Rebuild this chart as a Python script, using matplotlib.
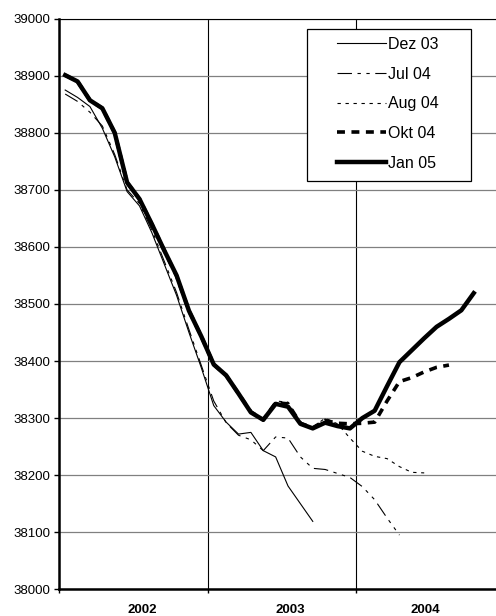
import numpy as np
import matplotlib
matplotlib.use('Agg')
import matplotlib.pyplot as plt
from matplotlib.patches import Rectangle

plt.rcParams['font.family'] = ['Liberation Sans', 'DejaVu Sans']

# values per month, starting Jan 2002 (one list per data vintage)
year_labels = ['2002', '2003', '2004']
series_names = ['Dez 03', 'Jul 04', 'Aug 04', 'Okt 04', 'Jan 05']

dez03 = [38875, 38862, 38846, 38808, 38758, 38697, 38672, 38625, 38570, 38515,
         38450, 38388, 38322, 38293, 38272, 38275, 38243, 38232, 38181, 38150,
         38119]
jul04 = [38868, 38855, 38836, 38812, 38762, 38700, 38676, 38630, 38575, 38520,
         38455, 38392, 38330, 38292, 38270, 38262, 38243, 38267, 38265, 38232,
         38212, 38210, 38203, 38196, 38180, 38157, 38125, 38095]
aug04 = [38900, 38889, 38856, 38842, 38798, 38712, 38683, 38639, 38593, 38548,
         38487, 38442, 38393, 38374, 38342, 38310, 38298, 38330, 38328, 38292,
         38284, 38300, 38290, 38265, 38242, 38233, 38229, 38215, 38205, 38204]
okt04 = [38901, 38890, 38857, 38843, 38800, 38713, 38684, 38640, 38594, 38549,
         38488, 38443, 38394, 38375, 38343, 38311, 38297, 38327, 38325, 38291,
         38283, 38296, 38291, 38290, 38291, 38293, 38330, 38364, 38371, 38381,
         38389, 38393]
jan05 = [38901, 38890, 38857, 38843, 38800, 38713, 38684, 38640, 38594, 38550,
         38488, 38443, 38394, 38375, 38343, 38310, 38297, 38325, 38320, 38290,
         38282, 38292, 38286, 38282, 38300, 38313, 38356, 38398, 38419, 38440,
         38460, 38474, 38489, 38519]

fig = plt.figure(figsize=(4.96, 6.16), dpi=100)
ax = fig.add_axes([59 / 496, 1 - 589.3 / 616, 1 - 59 / 496, (589.3 - 18.7) / 616])


def xs(vals):
    # points sit in the middle of each month slot
    return np.arange(len(vals)) + 0.5


ax.plot(xs(dez03), dez03, color='black', lw=0.8, label=series_names[0])
ax.plot(xs(jul04), jul04, color='black', lw=0.8, dashes=(13, 5, 3, 5, 3, 5),
        label=series_names[1])
ax.plot(xs(aug04), aug04, color='black', lw=0.8, dashes=(3, 4.2),
        label=series_names[2])
ax.plot(xs(okt04), okt04, color='black', lw=2.6, dashes=(2.2, 1.8),
        label=series_names[3])
ax.plot(xs(jan05), jan05, color='black', lw=3.2, label=series_names[4])

ax.set_xlim(0, 35.3)
ax.set_ylim(38000, 39000)
ax.set_yticks(np.arange(38000, 39001, 100))
ax.yaxis.grid(True, color='#808080', lw=0.9)
ax.set_axisbelow(True)

# year boundaries as black vertical lines, year names in between
ax.set_xticks([0, 12, 24])
ax.set_xticklabels([])
ax.xaxis.grid(True, color='black', lw=0.8)
ax.set_xticks([6.7, 18.65, 29.55], minor=True)
ax.set_xticklabels(year_labels, minor=True, fontsize=9.5, fontweight='bold')
ax.tick_params(axis='x', which='minor', length=0, pad=10.5)
ax.tick_params(axis='x', which='major', length=3, width=1)
ax.tick_params(axis='y', length=3.5, width=1, labelsize=9.5, pad=3)

ax.spines['left'].set_linewidth(1.8)
ax.spines['bottom'].set_linewidth(1.8)
ax.spines['top'].set_linewidth(0.8)
ax.spines['right'].set_visible(False)

# legend box
ax.add_patch(Rectangle((306.7 / 496, 1 - 180.7 / 616), (471 - 306.7) / 496,
                       (180.7 - 29.3) / 616, transform=fig.transFigure,
                       facecolor='white', edgecolor='black', lw=0.9,
                       zorder=4, clip_on=False))
ax.legend(loc='upper left', bbox_to_anchor=(336.7 / 496, 1 - 37 / 616),
          bbox_transform=fig.transFigure, frameon=False, fontsize=11.5,
          handlelength=3.1, handletextpad=0.1, labelspacing=0.92,
          borderpad=0, borderaxespad=0)

fig.savefig('out.png', dpi=100)
